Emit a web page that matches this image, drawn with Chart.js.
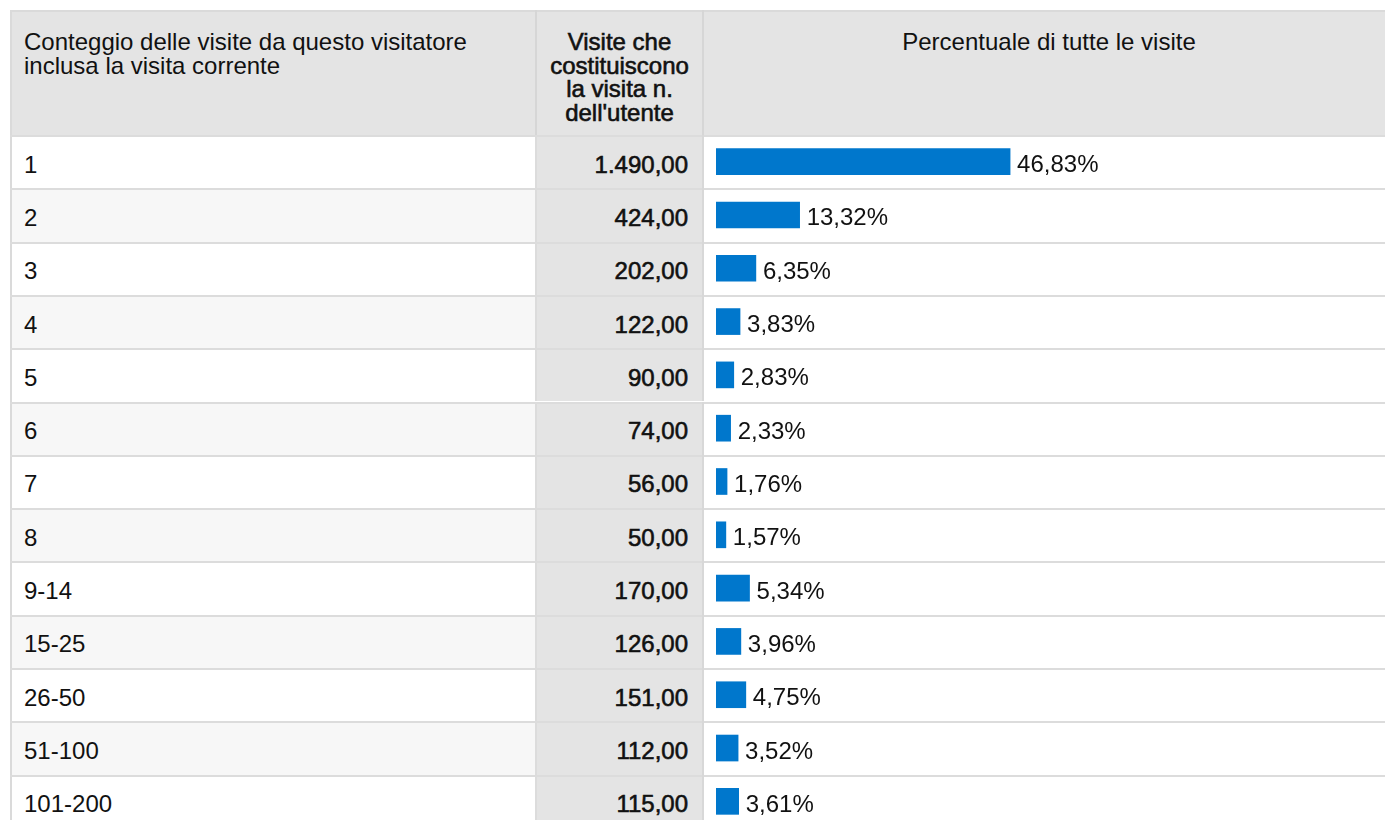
<!DOCTYPE html>
<html>
<head>
<meta charset="utf-8">
<script src="https://cdn.jsdelivr.net/npm/chart.js@4"></script>
<style>
  html, body { margin: 0; padding: 0; background: #fff; overflow: hidden; width: 1385px; height: 820px; }
  body { position: relative; font-family: "Liberation Sans", Arial, sans-serif; color: #111; }
  .abs { position: absolute; }
  .txt { position: absolute; font-size: 24px; line-height: 23px; white-space: nowrap; }
  .hdr { position: absolute; font-size: 24px; line-height: 23.5px; white-space: nowrap; }
  .heavy { -webkit-text-stroke: 0.6px #111; }
  #chartWrap { position: absolute; left: 704px; top: 135px; width: 681px; height: 693px; }
</style>
</head>
<body>
<div id="table"></div>
<div id="chartWrap"><canvas id="c" width="681" height="693"></canvas></div>
<script>
// ---- data ----
const categories = ['1','2','3','4','5','6','7','8','9-14','15-25','26-50','51-100','101-200'];
const visits = [1490, 424, 202, 122, 90, 74, 56, 50, 170, 126, 151, 112, 115];
const percents = [46.83, 13.32, 6.35, 3.83, 2.83, 2.33, 1.76, 1.57, 5.34, 3.96, 4.75, 3.52, 3.61];
const headerCol1 = ['Conteggio delle visite da questo visitatore', 'inclusa la visita corrente'];
const headerCol2 = ['Visite che', 'costituiscono', 'la visita n.', "dell'utente"];
const headerCol3 = 'Percentuale di tutte le visite';

// ---- formatting ----
function fmtNum(v) {
  const parts = v.toFixed(2).split('.');
  parts[0] = parts[0].replace(/\B(?=(\d{3})+(?!\d))/g, '.');
  return parts[0] + ',' + parts[1];
}
function fmtPct(v) { return v.toFixed(2).replace('.', ',') + '%'; }

// ---- table layout ----
const ROW_TOP = 135, ROW_H = 53.3;
const X0 = 10, C1 = 535, C2 = 537, C2E = 702, C3 = 704, XE = 1385;
const tbl = document.getElementById('table');
function box(l, t, w, h, bg) {
  const d = document.createElement('div');
  d.className = 'abs';
  d.style.cssText = `left:${l}px;top:${t}px;width:${w}px;height:${h}px;background:${bg};`;
  tbl.appendChild(d);
  return d;
}
function text(str, l, t, extra, cls) {
  const d = document.createElement('div');
  d.className = 'txt' + (cls ? ' ' + cls : '');
  d.textContent = str;
  d.style.left = l + 'px';
  d.style.top = t + 'px';
  if (extra) Object.assign(d.style, extra);
  tbl.appendChild(d);
  return d;
}
// header
box(X0, 10, XE - X0, 2, '#dadada');
box(X0, 12, XE - X0, ROW_TOP - 12, '#e4e4e4');
box(X0, 10, 2, 820, '#dadada');
box(C1, 10, 2, ROW_TOP - 10, '#d6d6d6');
box(C2E, 10, 2, ROW_TOP - 10, '#d6d6d6');
// header texts
headerCol1.forEach((s, i) => {
  const d = document.createElement('div');
  d.className = 'hdr'; d.textContent = s;
  d.style.left = '24px'; d.style.top = (30 + i * 23.5) + 'px';
  tbl.appendChild(d);
});
headerCol2.forEach((s, i) => {
  const d = document.createElement('div');
  d.className = 'hdr heavy'; d.textContent = s;
  d.style.left = C2 + 'px'; d.style.width = (C2E - C2) + 'px';
  d.style.textAlign = 'center';
  d.style.top = (30 + i * 23.5) + 'px';
  tbl.appendChild(d);
});
{
  const d = document.createElement('div');
  d.className = 'hdr'; d.textContent = headerCol3;
  d.style.left = '704px'; d.style.width = '690px'; d.style.textAlign = 'center';
  d.style.top = '30px';
  tbl.appendChild(d);
}
// rows
categories.forEach((cat, i) => {
  const top = ROW_TOP + i * ROW_H;
  box(X0 + 2, top, C1 - X0 - 2, ROW_H, i % 2 === 0 ? '#ffffff' : '#f7f7f7');
  box(C2, top, C2E - C2, ROW_H, '#e4e4e4');
  box(X0, top, XE - X0, 2, '#dcdcdc');
  box(C1, top, 2, ROW_H, '#dcdcdc');
  box(C2E, top, 2, ROW_H, '#d8d8d8');
  const tt = top + ROW_H / 2 - 9;
  text(cat, 24, tt);
  text(fmtNum(visits[i]), C2, tt, { width: (688 - C2) + 'px', textAlign: 'right' }, 'heavy');
});

// ---- chart (bars) ----
const labelPlugin = {
  id: 'pctLabels',
  afterDatasetsDraw(chart) {
    const ctx = chart.ctx;
    const meta = chart.getDatasetMeta(0);
    ctx.save();
    ctx.font = '24px "Liberation Sans", Arial, sans-serif';
    ctx.fillStyle = '#111';
    ctx.textAlign = 'left';
    ctx.textBaseline = 'alphabetic';
    meta.data.forEach((bar, i) => {
      ctx.fillText(fmtPct(percents[i]), bar.x + 7, bar.y + 10.5);
    });
    ctx.restore();
  }
};
new Chart(document.getElementById('c'), {
  type: 'bar',
  data: {
    labels: categories,
    datasets: [{
      data: percents,
      backgroundColor: '#0077cc',
      borderWidth: 0,
      barThickness: 26
    }]
  },
  options: {
    indexAxis: 'y',
    responsive: false,
    animation: false,
    devicePixelRatio: 1,
    layout: { padding: { left: 12, right: 41, top: 0, bottom: 0 } },
    plugins: { legend: { display: false }, tooltip: { enabled: false } },
    scales: {
      x: { display: false, min: 0, max: 100 },
      y: { display: false }
    }
  },
  plugins: [labelPlugin]
});
</script>
</body>
</html>
